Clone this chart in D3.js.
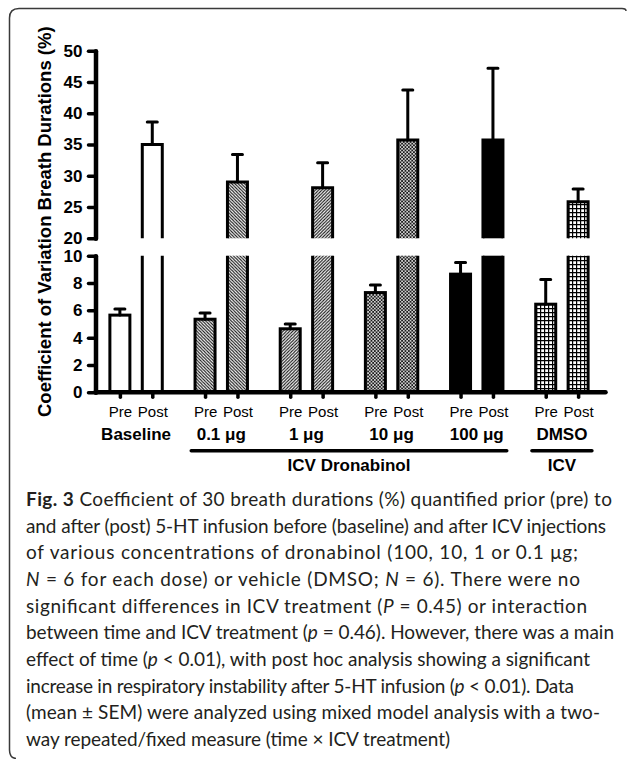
<!DOCTYPE html>
<html>
<head>
<meta charset="utf-8">
<script src="https://cdn.jsdelivr.net/npm/d3@7"></script>
<style>
  body { margin: 0; background: #fff; }
  svg { display: block; }
</style>
</head>
<body>
<div class="graphContainer"></div>
<script>
// values (mean, SEM)
const groups = ["Baseline", "0.1 μg", "1 μg", "10 μg", "100 μg", "DMSO"];
const times = ["Pre", "Post"];
const preMean = [5.65, 5.35, 4.65, 7.3, 8.65, 6.45];
const preSem = [0.45, 0.45, 0.35, 0.55, 0.85, 1.8];
const postMean = [35.0, 29.0, 28.1, 35.7, 35.7, 25.85];
const postSem = [3.6, 4.4, 4.0, 8.0, 11.5, 2.05];
const upperTicks = [20, 25, 30, 35, 40, 45, 50];
const lowerTicks = [0, 2, 4, 6, 8, 10];
const brackets = [
  { label: "ICV Dronabinol", from: "0.1 μg", to: "100 μg" },
  { label: "ICV", from: "DMSO", to: "DMSO" }
];
const yLabel = "Coefficient of Variation Breath Durations (%)";

const captionLines = [
  [["Fig. 3", "b"], [" Coefficient of 30 breath durations (%) quantified prior (pre) to"]],
  [["and after (post) 5-HT infusion before (baseline) and after ICV injections"]],
  [["of various concentrations of dronabinol (100, 10, 1 or 0.1 μg;"]],
  [["N", "i"], [" = 6 for each dose) or vehicle (DMSO; "], ["N", "i"], [" = 6). There were no"]],
  [["significant differences in ICV treatment ("], ["P", "i"], [" = 0.45) or interaction"]],
  [["between time and ICV treatment ("], ["p", "i"], [" = 0.46). However, there was a main"]],
  [["effect of time ("], ["p", "i"], [" < 0.01), with post hoc analysis showing a significant"]],
  [["increase in respiratory instability after 5-HT infusion ("], ["p", "i"], [" < 0.01). Data"]],
  [["(mean ± SEM) were analyzed using mixed model analysis with a two-"]],
  [["way repeated/fixed measure (time × ICV treatment)"]]
];
const captionRight = [612, 606, 578, 580, 587, 614, 590, 574, 600, 450];

const fills = ["#fff", "url(#hatchDown)", "url(#hatchUp)", "url(#checker)", "#000", "url(#grid)"];

function drawChart() {
  const w = 627, h = 759,
    axisX = 95.5,
    barW = 20,
    chartFont = "'Liberation Sans', Arial, sans-serif";

  const svg = d3.select(".graphContainer")
    .append("svg")
    .attr("width", w)
    .attr("height", h);

  // patterns
  const defs = svg.append("defs");
  const down = defs.append("pattern").attr("id", "hatchDown")
    .attr("patternUnits", "userSpaceOnUse").attr("width", 3.2).attr("height", 3.2);
  down.append("rect").attr("width", 3.2).attr("height", 3.2).attr("fill", "#fff");
  down.append("path").attr("d", "M-1,-1L4.2,4.2M-1,2.2L1,4.2M2.2,-1L4.2,1")
    .attr("stroke", "#111").attr("stroke-width", 1.05);

  const up = defs.append("pattern").attr("id", "hatchUp")
    .attr("patternUnits", "userSpaceOnUse").attr("width", 3.2).attr("height", 3.2);
  up.append("rect").attr("width", 3.2).attr("height", 3.2).attr("fill", "#fff");
  up.append("path").attr("d", "M-1,4.2L4.2,-1M-1,1L1,-1M2.2,4.2L4.2,2.2")
    .attr("stroke", "#111").attr("stroke-width", 1.05);

  const chk = defs.append("pattern").attr("id", "checker")
    .attr("patternUnits", "userSpaceOnUse").attr("width", 3.4).attr("height", 3.4);
  chk.append("rect").attr("width", 3.4).attr("height", 3.4).attr("fill", "#cfcfcf");
  chk.append("rect").attr("width", 1.7).attr("height", 1.7).attr("fill", "#1a1a1a");
  chk.append("rect").attr("x", 1.7).attr("y", 1.7).attr("width", 1.7).attr("height", 1.7).attr("fill", "#1a1a1a");

  const grid = defs.append("pattern").attr("id", "grid")
    .attr("patternUnits", "userSpaceOnUse").attr("width", 4).attr("height", 4);
  grid.append("rect").attr("width", 4).attr("height", 4).attr("fill", "#fff");
  grid.append("path").attr("d", "M0.6,0V4M0,0.6H4")
    .attr("stroke", "#000").attr("stroke-width", 1.2);

  // frame
  svg.append("path")
    .attr("d", "M626,11Q626,8.5,622,8.5H19Q9.5,8.5,9.5,18V750Q9.5,758,16,758.5")
    .attr("fill", "none")
    .attr("stroke", "#3a3a3a")
    .attr("stroke-width", 1.5);

  // scales
  const yUp = d3.scaleLinear().domain([20, 50]).range([238.3, 50.7]);
  const yLow = d3.scaleLinear().domain([0, 10]).range([392.3, 255.7]);
  const xGroup = d3.scaleBand().domain(groups).range([93.5, 604.5]);
  const xTime = d3.scalePoint().domain(times).range([-16.2, 16.2]);
  const center = function (g) { return xGroup(g) + xGroup.bandwidth() / 2; };

  // bars
  const bars = groups.flatMap(function (g, i) {
    return [
      { group: g, time: "Pre", mean: preMean[i], sem: preSem[i], fill: fills[i] },
      { group: g, time: "Post", mean: postMean[i], sem: postSem[i], fill: fills[i] }
    ];
  });

  const barG = svg.append("g");
  bars.forEach(function (d) {
    const cx = center(d.group) + xTime(d.time),
      x0 = cx - barW / 2,
      x1 = cx + barW / 2;
    const g = barG.append("g");
    let yTop, yErr;
    if (d.mean <= 10) {
      g.append("rect")
        .attr("x", x0).attr("y", yLow(d.mean))
        .attr("width", barW).attr("height", yLow(0) - yLow(d.mean))
        .attr("fill", d.fill).attr("stroke", "#000").attr("stroke-width", 3);
      yTop = yLow(d.mean);
      yErr = yLow(d.mean + d.sem);
    } else {
      // broken bar: lower piece up to 10, upper piece from 20
      g.append("rect")
        .attr("x", x0).attr("y", yLow(10))
        .attr("width", barW).attr("height", yLow(0) - yLow(10))
        .attr("fill", d.fill);
      g.append("path")
        .attr("d", `M${x0},${yLow(0)}V${yLow(10)}M${x1},${yLow(10)}V${yLow(0)}`)
        .attr("fill", "none").attr("stroke", "#000").attr("stroke-width", 3);
      g.append("rect")
        .attr("x", x0).attr("y", yUp(d.mean))
        .attr("width", barW).attr("height", yUp(20) - yUp(d.mean))
        .attr("fill", d.fill);
      g.append("path")
        .attr("d", `M${x0},${yUp(20)}V${yUp(d.mean)}H${x1}V${yUp(20)}`)
        .attr("fill", "none").attr("stroke", "#000").attr("stroke-width", 3);
      yTop = yUp(d.mean);
      yErr = yUp(d.mean + d.sem);
    }
    // error bar (upper half only)
    g.append("path")
      .attr("d", `M${cx},${yTop}V${yErr}M${cx - 5},${yErr}H${cx + 5}`)
      .attr("fill", "none").attr("stroke", "#000")
      .attr("stroke-width", 3).attr("stroke-linecap", "round");
  });

  // y axes, broken in two
  function styleAxis(sel) {
    sel.select(".domain")
      .attr("stroke-width", 4.5)
      .attr("stroke-linecap", "round");
    sel.selectAll(".tick line")
      .attr("stroke-width", 3.5)
      .attr("stroke-linecap", "round");
    sel.selectAll(".tick text")
      .attr("font-family", chartFont)
      .attr("font-weight", "bold")
      .attr("font-size", 17)
      .attr("fill", "#000");
  }

  svg.append("g")
    .attr("transform", `translate(${axisX},0)`)
    .call(d3.axisLeft(yUp).tickValues(upperTicks).tickSize(7).tickPadding(6).tickSizeOuter(0))
    .call(styleAxis);

  svg.append("g")
    .attr("transform", `translate(${axisX},0)`)
    .call(d3.axisLeft(yLow).tickValues(lowerTicks).tickSize(7).tickPadding(6).tickSizeOuter(0))
    .call(styleAxis);

  // x axis line
  svg.append("line")
    .attr("x1", axisX).attr("x2", xGroup.range()[1] + 1)
    .attr("y1", yLow(0)).attr("y2", yLow(0))
    .attr("stroke", "#000").attr("stroke-width", 4.5)
    .attr("stroke-linecap", "round");

  // pre/post ticks under each group
  groups.forEach(function (g) {
    const ax = svg.append("g")
      .attr("transform", `translate(${center(g)},${yLow(0)})`)
      .call(d3.axisBottom(xTime).tickSize(5).tickPadding(9.5));
    ax.select(".domain").remove();
    ax.selectAll(".tick line")
      .attr("stroke-width", 3.5)
      .attr("stroke-linecap", "round");
    ax.selectAll(".tick text")
      .attr("font-family", chartFont)
      .attr("font-size", 15)
      .attr("fill", "#000");
  });

  svg.selectAll(".grpLabel")
    .data(groups)
    .join("text")
    .attr("class", "grpLabel")
    .attr("x", function (d) { return center(d); })
    .attr("y", 440)
    .attr("text-anchor", "middle")
    .attr("font-family", chartFont)
    .attr("font-weight", "bold")
    .attr("font-size", 17)
    .text(function (d) { return d; });

  // treatment brackets
  const br = svg.selectAll(".bracket")
    .data(brackets)
    .join("g")
    .attr("class", "bracket");
  br.append("line")
    .attr("x1", function (d) { return center(d.from) - 30; })
    .attr("x2", function (d) { return center(d.to) + 30; })
    .attr("y1", 450.7).attr("y2", 450.7)
    .attr("stroke", "#000").attr("stroke-width", 3.5)
    .attr("stroke-linecap", "round");
  br.append("text")
    .attr("x", function (d) { return (center(d.from) + center(d.to)) / 2; })
    .attr("y", 471)
    .attr("text-anchor", "middle")
    .attr("font-family", chartFont)
    .attr("font-weight", "bold")
    .attr("font-size", 17)
    .text(function (d) { return d.label; });

  // y label
  svg.append("text")
    .attr("transform", "translate(50.7,221.7) rotate(-90)")
    .attr("text-anchor", "middle")
    .attr("font-family", chartFont)
    .attr("font-weight", "bold")
    .attr("font-size", 18.5)
    .text(yLabel);

  // caption
  const cap = svg.append("g")
    .attr("font-family", "Lato, 'Open Sans', sans-serif")
    .attr("font-size", 19)
    .attr("fill", "#231f20");
  captionLines.forEach(function (line, i) {
    const t = cap.append("text")
      .attr("x", 26)
      .attr("y", 506 + i * 26.67)
      .attr("textLength", captionRight[i] - 26)
      .attr("lengthAdjust", "spacing");
    line.forEach(function (seg) {
      t.append("tspan")
        .attr("font-weight", seg[1] === "b" ? "bold" : null)
        .attr("font-style", seg[1] === "i" ? "italic" : null)
        .text(seg[0]);
    });
  });
}

drawChart();
</script>
</body>
</html>
